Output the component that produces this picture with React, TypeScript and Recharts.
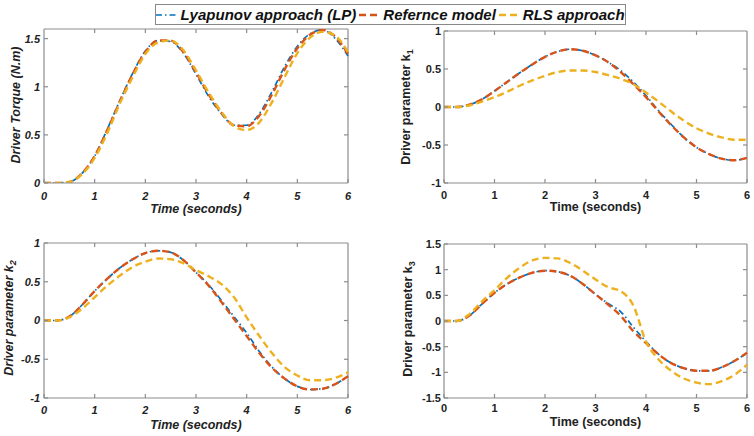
import { LineChart, Line, XAxis, YAxis, ReferenceLine } from "recharts";

const time = [0, 0.25, 0.5, 0.75, 1, 1.25, 1.5, 1.75, 2, 2.25, 2.5, 2.75, 3, 3.25, 3.5, 3.75, 4, 4.25, 4.5, 4.75, 5, 5.25, 5.5, 5.75, 6];

const torqueLP = [0, 0, 0.01, 0.1, 0.28, 0.56, 0.86, 1.14, 1.37, 1.48, 1.47, 1.35, 1.13, 0.9, 0.72, 0.6, 0.6, 0.72, 0.95, 1.21, 1.42, 1.55, 1.59, 1.5, 1.32];
const torqueRef = [0, 0, 0.01, 0.1, 0.28, 0.55, 0.85, 1.13, 1.36, 1.48, 1.48, 1.36, 1.15, 0.92, 0.73, 0.6, 0.59, 0.7, 0.92, 1.18, 1.4, 1.54, 1.59, 1.52, 1.34];
const torqueRLS = [0, 0, 0.01, 0.09, 0.26, 0.52, 0.83, 1.1, 1.34, 1.46, 1.48, 1.38, 1.17, 0.94, 0.74, 0.59, 0.55, 0.63, 0.84, 1.1, 1.35, 1.51, 1.57, 1.53, 1.36];

const k1LP = [0, 0, 0.03, 0.1, 0.21, 0.33, 0.45, 0.56, 0.66, 0.73, 0.76, 0.74, 0.68, 0.59, 0.48, 0.33, 0.15, -0.05, -0.23, -0.4, -0.53, -0.62, -0.68, -0.7, -0.67];
const k1Ref = [0, 0, 0.03, 0.1, 0.21, 0.33, 0.45, 0.56, 0.66, 0.73, 0.76, 0.74, 0.68, 0.59, 0.46, 0.3, 0.13, -0.06, -0.24, -0.4, -0.53, -0.62, -0.68, -0.7, -0.67];
const k1RLS = [0, 0, 0.02, 0.07, 0.13, 0.2, 0.28, 0.35, 0.41, 0.46, 0.48, 0.48, 0.46, 0.42, 0.37, 0.3, 0.19, 0.07, -0.06, -0.18, -0.28, -0.35, -0.4, -0.43, -0.43];

const k2LP = [0, 0, 0.05, 0.2, 0.38, 0.54, 0.68, 0.79, 0.87, 0.9, 0.88, 0.78, 0.62, 0.46, 0.26, 0.05, -0.16, -0.4, -0.6, -0.75, -0.85, -0.89, -0.88, -0.82, -0.72];
const k2Ref = [0, 0, 0.05, 0.2, 0.38, 0.54, 0.68, 0.79, 0.87, 0.9, 0.88, 0.78, 0.62, 0.45, 0.24, 0.02, -0.2, -0.42, -0.61, -0.75, -0.85, -0.89, -0.88, -0.82, -0.72];
const k2RLS = [0, 0, 0.04, 0.15, 0.3, 0.45, 0.58, 0.69, 0.76, 0.8, 0.79, 0.74, 0.65, 0.57, 0.47, 0.3, 0.04, -0.2, -0.42, -0.6, -0.71, -0.77, -0.77, -0.74, -0.67];

const k3LP = [0, 0, 0.1, 0.33, 0.55, 0.72, 0.85, 0.94, 0.98, 0.96, 0.88, 0.72, 0.52, 0.34, 0.18, -0.12, -0.4, -0.65, -0.82, -0.92, -0.97, -0.97, -0.9, -0.78, -0.62];
const k3Ref = [0, 0, 0.1, 0.33, 0.55, 0.72, 0.85, 0.94, 0.98, 0.96, 0.88, 0.72, 0.52, 0.32, 0.1, -0.2, -0.43, -0.65, -0.82, -0.92, -0.97, -0.97, -0.9, -0.78, -0.62];
const k3RLS = [0, 0, 0.13, 0.38, 0.6, 0.84, 1.04, 1.18, 1.23, 1.22, 1.13, 0.98, 0.81, 0.66, 0.58, 0.3, -0.4, -0.75, -0.97, -1.12, -1.2, -1.23, -1.17, -1.05, -0.85];

const seriesNames = ["Lyapunov approach (LP)", "Refernce model", "RLS approach"];
const xTicks = [0, 1, 2, 3, 4, 5, 6];
const torqueTicks = [0, 0.5, 1, 1.5];
const kTicks = [-1, -0.5, 0, 0.5, 1];
const k3Ticks = [-1.5, -1, -0.5, 0, 0.5, 1, 1.5];

const FONT = "'Liberation Sans', Arial, Helvetica, sans-serif";
const COLORS = ["#0072BD", "#D95319", "#EDB120"];
const DASHES = ["6 3 1.5 3", "7 4", "7 4"];
const WIDTHS = [1.7, 2.4, 2.4];
const AXIS = "#8c8c8c";
const TEXT = "#222";
const TICK_LEN = 4;

function AxisTitle({ px, py, text, sub, vertical, italic }: any) {
  return (
    <text
      x={px}
      y={py}
      transform={vertical ? `rotate(-90 ${px} ${py})` : undefined}
      textAnchor="middle"
      fontFamily={FONT}
      fontWeight="bold"
      fontStyle={italic ? "italic" : "normal"}
      fontSize={12.5}
      fill={TEXT}
    >
      {text}
      {sub && (
        <tspan dy={3} fontSize={9}>
          {sub}
        </tspan>
      )}
    </text>
  );
}

function Panel({ left, top, series, yDomain, yTicks, plot, italic, yTitle, ySub, yTitleX, yTitleY, xTitleY, xTickGap, yTickGap }: any) {
  const W = 377;
  const H = 218;
  const rows = time.map((t, i) => ({ t, lp: series[0][i], rf: series[1][i], rls: series[2][i] }));
  const tickStyle = { fill: TEXT, fontSize: 11, fontWeight: "bold", fontStyle: italic ? "italic" : "normal", fontFamily: FONT };
  const [y0, y1] = yDomain;
  const xMax = xTicks[xTicks.length - 1];
  // inward tick length on the top / right edges, in data units
  const dx = (TICK_LEN * xMax) / (plot.r - plot.l);
  const dy = (TICK_LEN * (y1 - y0)) / (plot.b - plot.t);
  const line = { stroke: AXIS, strokeWidth: 1.2 };
  return (
    <div style={{ position: "absolute", left, top }}>
      <LineChart
        width={W}
        height={H}
        data={rows}
        margin={{ top: plot.t, right: W - plot.r, left: 0, bottom: 0 }}
      >
        <XAxis
          dataKey="t"
          type="number"
          domain={[0, xMax]}
          ticks={xTicks}
          interval={0}
          height={H - plot.b}
          axisLine={line}
          tickLine={line}
          tickSize={-TICK_LEN}
          tickMargin={xTickGap}
          tick={tickStyle}
          label={<AxisTitle px={(plot.l + plot.r) / 2} py={xTitleY} text="Time (seconds)" italic={italic} />}
        />
        <YAxis
          type="number"
          domain={yDomain}
          ticks={yTicks}
          interval={0}
          width={plot.l}
          axisLine={line}
          tickLine={line}
          tickSize={-TICK_LEN}
          tickMargin={yTickGap}
          tick={tickStyle}
          allowDataOverflow
          label={<AxisTitle px={yTitleX} py={yTitleY} text={yTitle} sub={ySub} vertical italic={italic} />}
        />
        <ReferenceLine y={y1} {...line} />
        <ReferenceLine x={xMax} {...line} />
        {xTicks.slice(1, -1).map((t) => (
          <ReferenceLine key={"tx" + t} segment={[{ x: t, y: y1 }, { x: t, y: y1 - dy }]} {...line} />
        ))}
        {yTicks
          .filter((v: number) => v > y0 && v < y1)
          .map((v: number) => (
            <ReferenceLine key={"ty" + v} segment={[{ x: xMax, y: v }, { x: xMax - dx, y: v }]} {...line} />
          ))}
        {["lp", "rf", "rls"].map((key, i) => (
          <Line
            key={key}
            dataKey={key}
            name={seriesNames[i]}
            type="monotone"
            stroke={COLORS[i]}
            strokeWidth={WIDTHS[i]}
            strokeDasharray={DASHES[i]}
            dot={false}
            activeDot={false}
            isAnimationActive={false}
          />
        ))}
      </LineChart>
    </div>
  );
}

function LegendBox() {
  return (
    <div
      style={{
        position: "absolute",
        left: 155,
        top: 4,
        width: 469,
        height: 19,
        border: "1px solid #888",
        background: "#fff",
        display: "flex",
        alignItems: "center",
        justifyContent: "center",
        fontFamily: FONT,
        fontWeight: "bold",
        fontStyle: "italic",
        fontSize: 15,
        color: "#111",
        whiteSpace: "nowrap",
      }}
    >
      {seriesNames.map((name, i) => (
        <span key={name} style={{ display: "flex", alignItems: "center", marginLeft: i === 0 ? 0 : 3 }}>
          <svg width={20} height={10}>
            <line x1={0} y1={5} x2={20} y2={5} stroke={COLORS[i]} strokeWidth={WIDTHS[i]} strokeDasharray={DASHES[i]} />
          </svg>
          <span style={{ marginLeft: 4 }}>{name}</span>
        </span>
      ))}
    </div>
  );
}

export default function App() {
  return (
    <div style={{ position: "absolute", left: 0, top: 0, width: 754, height: 436, background: "#fff", overflow: "hidden" }}>
      <Panel
        left={0}
        top={0}
        series={[torqueLP, torqueRef, torqueRLS]}
        yDomain={[0, 1.6]}
        yTicks={torqueTicks}
        plot={{ l: 44, r: 348, t: 29, b: 183 }}
        italic
        yTitle="Driver Torque (N.m)"
        yTitleX={20}
        yTitleY={105}
        xTitleY={213}
        xTickGap={13}
        yTickGap={8}
      />
      <Panel
        left={377}
        top={0}
        series={[k1LP, k1Ref, k1RLS]}
        yDomain={[-1, 1]}
        yTicks={kTicks}
        plot={{ l: 67, r: 370, t: 31, b: 183 }}
        italic={false}
        yTitle="Driver parameter k"
        ySub="1"
        yTitleX={33}
        yTitleY={107}
        xTitleY={211}
        xTickGap={12}
        yTickGap={7}
      />
      <Panel
        left={0}
        top={218}
        series={[k2LP, k2Ref, k2RLS]}
        yDomain={[-1, 1]}
        yTicks={kTicks}
        plot={{ l: 44, r: 348, t: 25, b: 180 }}
        italic
        yTitle="Driver parameter k"
        ySub="2"
        yTitleX={13}
        yTitleY={100}
        xTitleY={211}
        xTickGap={12}
        yTickGap={8}
      />
      <Panel
        left={377}
        top={218}
        series={[k3LP, k3Ref, k3RLS]}
        yDomain={[-1.5, 1.5]}
        yTicks={k3Ticks}
        plot={{ l: 67, r: 370, t: 26, b: 180 }}
        italic={false}
        yTitle="Driver parameter k"
        ySub="3"
        yTitleX={35}
        yTitleY={101}
        xTitleY={208}
        xTickGap={10}
        yTickGap={7}
      />
      <LegendBox />
    </div>
  );
}
